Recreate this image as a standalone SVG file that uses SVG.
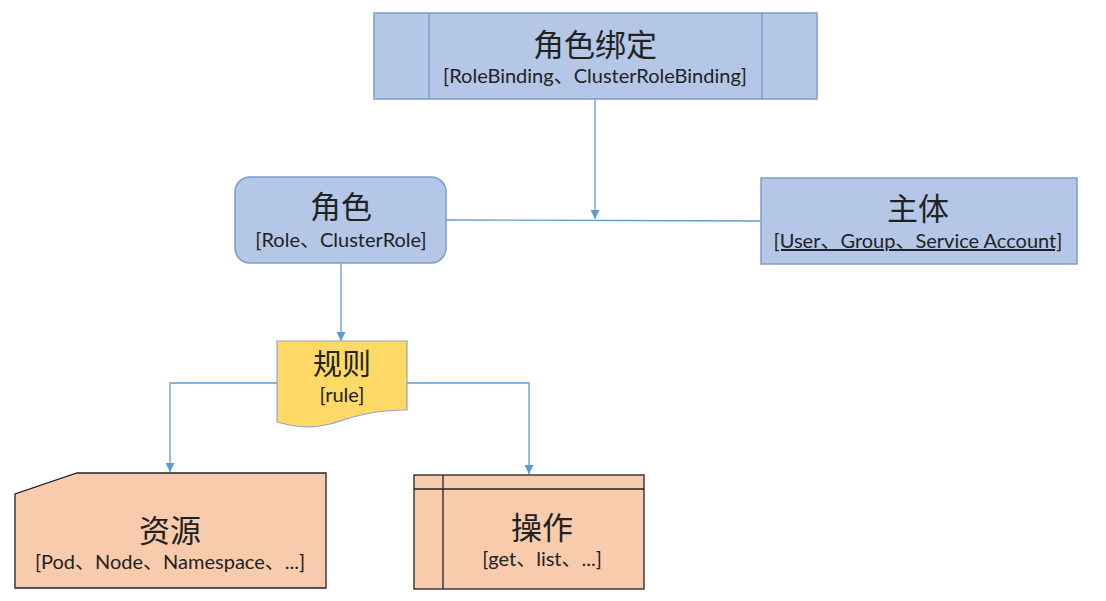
<svg xmlns="http://www.w3.org/2000/svg" width="1106" height="601" viewBox="0 0 1106 601">
<style>
.blue{fill:#B4C7E7;stroke:#7C9CCB;stroke-width:1.5}
.yellow{fill:#FFD966;stroke:#8FA6C8;stroke-width:1.2}
.orange{fill:#F8CBAD;stroke:#222;stroke-width:1.3}
.inner{fill:none;stroke:#222;stroke-width:1.3}
.innerb{fill:none;stroke:#7C9CCB;stroke-width:1.5}
.t{font-family:"Noto Sans CJK SC",sans-serif;fill:#222;text-anchor:middle}
.s{font-family:Lato,"Noto Sans CJK SC",sans-serif;fill:#222;text-anchor:middle}
.c{fill:none;stroke:#5B9BD5;stroke-width:1.3}
</style>
<defs>
<marker id="arr" viewBox="0 0 10 10" refX="10" refY="5" markerWidth="9" markerHeight="9" markerUnits="userSpaceOnUse" orient="auto">
<path d="M0,0 L10,5 L0,10 z" fill="#5B9BD5"/>
</marker>
</defs>
<g id="connectors">
<path class="c" d="M595,99 V219" marker-end="url(#arr)"/>
<path class="c" d="M446,220 L761,221"/>
<path class="c" d="M341,263 V341" marker-end="url(#arr)"/>
<path class="c" d="M277,383 H170 V472" marker-end="url(#arr)"/>
<path class="c" d="M407,383 H529 V474" marker-end="url(#arr)"/>
</g>
<g id="rolebinding">
<rect class="blue" x="374" y="13" width="443" height="86"/>
<line class="innerb" x1="429" y1="13" x2="429" y2="99"/>
<line class="innerb" x1="762" y1="13" x2="762" y2="99"/>
<text class="t" x="595" y="56" font-size="31">角色绑定</text>
<text class="s" x="595" y="83" font-size="20">[RoleBinding、ClusterRoleBinding]</text>
</g>
<g id="role">
<rect class="blue" x="235" y="177" width="211" height="86" rx="15"/>
<text class="t" x="341" y="218" font-size="31">角色</text>
<text class="s" x="341" y="247" font-size="20">[Role、ClusterRole]</text>
</g>
<g id="subject">
<rect class="blue" x="761" y="178" width="316" height="86"/>
<text class="t" x="918" y="220" font-size="31">主体</text>
<text class="s" x="918" y="248" font-size="20" text-decoration="underline">[User、Group、Service Account]</text>
</g>
<g id="rule">
<path class="yellow" d="M277,341 H407 V410 C370,410 350,418 330,424 C310,429 295,427 277,422 Z"/>
<text class="t" x="342" y="375" font-size="29">规则</text>
<text class="s" x="342" y="402" font-size="20">[rule]</text>
</g>
<g id="resource">
<path class="orange" d="M77,473 H326 V588 H15 V494 Z"/>
<text class="t" x="170" y="542" font-size="31">资源</text>
<text class="s" x="170" y="569" font-size="20">[Pod、Node、Namespace、...]</text>
</g>
<g id="operation">
<rect class="orange" x="414" y="475" width="230" height="114"/>
<line class="inner" x1="414" y1="489" x2="644" y2="489"/>
<line class="inner" x1="443" y1="475" x2="443" y2="589"/>
<text class="t" x="542" y="539" font-size="31">操作</text>
<text class="s" x="542" y="566" font-size="20">[get、list、...]</text>
</g>
</svg>
